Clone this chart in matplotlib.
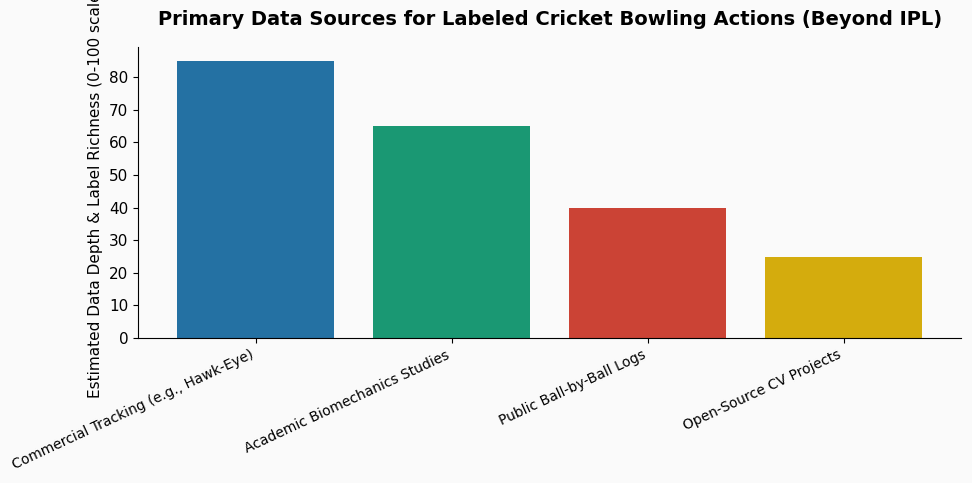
import matplotlib
matplotlib.use("Agg")
import matplotlib.pyplot as plt

categories = ["Commercial Tracking (e.g., Hawk-Eye)", "Academic Biomechanics Studies",
              "Public Ball-by-Ball Logs", "Open-Source CV Projects"]
values = [85, 65, 40, 25]
colors = ["#2471a3", "#1a9873", "#cb4335", "#d4ac0d"]

fig = plt.figure(figsize=(9.72, 4.83), dpi=100, facecolor="#fafafa")
ax = fig.add_axes([0.142, 0.300, 0.847, 0.603])
ax.set_facecolor("#fafafa")
ax.bar(range(len(categories)), values, color=colors, width=0.8)
ax.set_xlim(-0.6, 3.6)
ax.set_ylim(0, 89.25)
ax.set_xticks(range(len(categories)))
ax.set_xticklabels(categories, rotation=25, ha="right", fontsize=10)
ax.tick_params(axis="y", labelsize=11)
ax.set_ylabel("Estimated Data Depth & Label Richness (0-100 scale)", fontsize=11)
ax.set_title("Primary Data Sources for Labeled Cricket Bowling Actions (Beyond IPL)",
             fontsize=14, fontweight="bold", pad=16)
ax.spines["top"].set_visible(False)
ax.spines["right"].set_visible(False)
fig.savefig("out.png", dpi=100, facecolor=fig.get_facecolor())
